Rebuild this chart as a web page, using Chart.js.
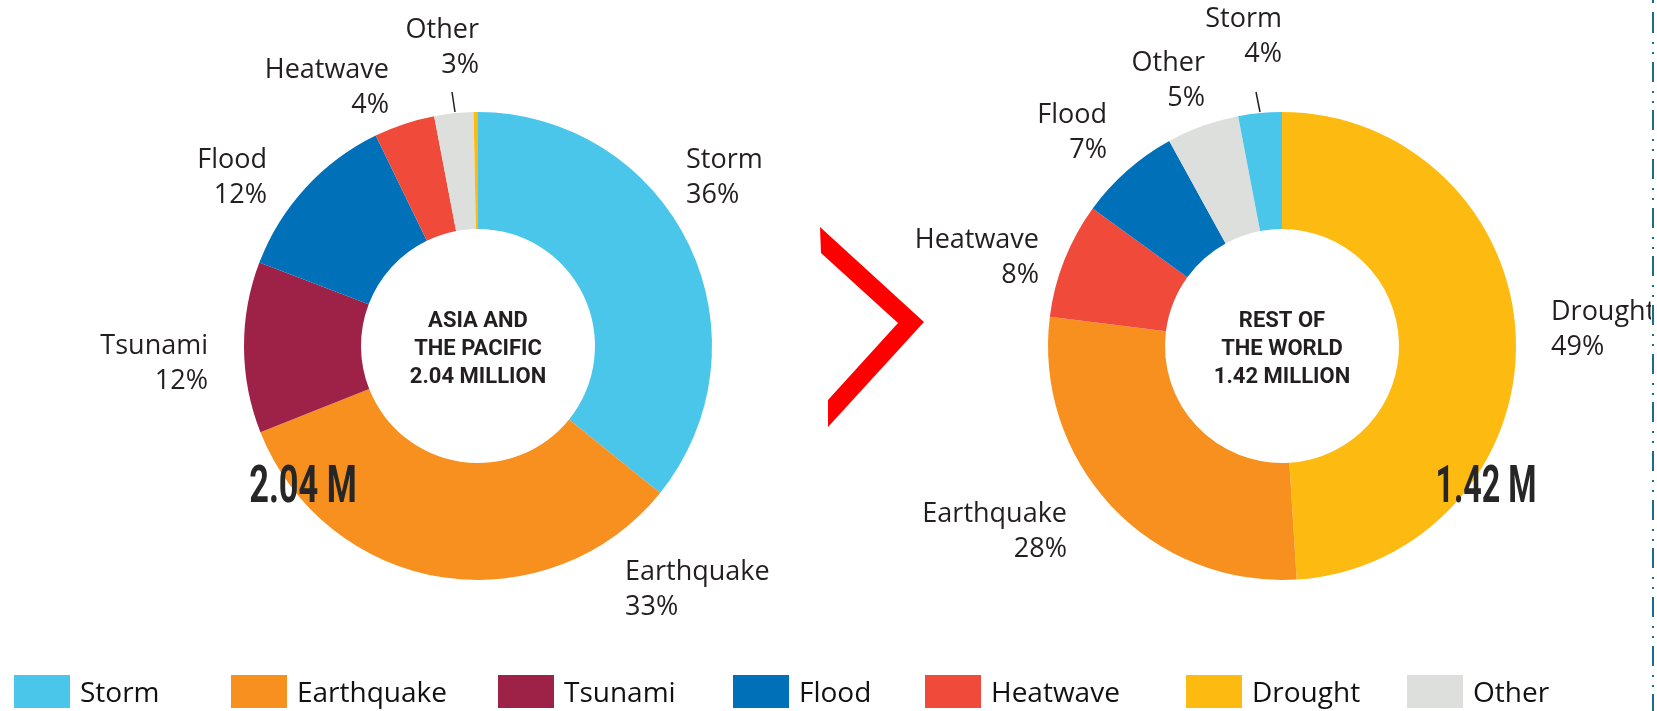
<!DOCTYPE html>
<html>
<head>
<meta charset="utf-8">
<title>Hazard shares</title>
<script src="https://cdn.jsdelivr.net/npm/chart.js@4.4.1/dist/chart.umd.min.js"></script>
<style>
    html, body { margin: 0; padding: 0; background: #fff; }
    body {
        width: 1657px;
        height: 711px;
        position: relative;
        overflow: hidden;
        font-family: 'Open Sans', sans-serif;
    }
    .chart-box { position: absolute; top: 0; height: 640px; }
    #asiaBox { left: 0; width: 830px; }
    #restBox { left: 900px; width: 751px; }
    #chevron { position: absolute; left: 0; top: 0; }
    .divider {
        position: absolute;
        left: 1652px;
        top: 0;
        width: 2px;
        height: 711px;
        background: repeating-linear-gradient(to bottom,
            #1e6a8d 0px, #1e6a8d 20px,
            transparent 20px, transparent 29px,
            #1e6a8d 29px, #1e6a8d 31px,
            transparent 31px, transparent 39px,
            #1e6a8d 39px, #1e6a8d 41px,
            transparent 41px, transparent 48.67px);
        background-position: 0 13px;
    }
    .legend-item { position: absolute; top: 675px; height: 34px; }
    .legend-item .swatch { position: absolute; left: 0; top: 0; width: 56px; height: 33px; }
    .legend-item .name {
        position: absolute;
        left: 66px;
        top: -3px;
        font-size: 28px;
        line-height: 38px;
        color: #111;
        white-space: nowrap;
    }
</style>
</head>
<body>
<div class="chart-box" id="asiaBox"><canvas id="asiaChart"></canvas></div>
<div class="chart-box" id="restBox"><canvas id="restChart"></canvas></div>
<svg id="chevron" width="1657" height="711">
    <polygon points="820,227 924,322 828,427 828,400 898,323 821,253" fill="#ff0000"></polygon>
</svg>
<div class="divider"></div>
<div id="legend"></div>

<script>
// Data
const asiaCategories = ['Storm', 'Earthquake', 'Tsunami', 'Flood', 'Heatwave', 'Other', 'Drought'];
const asiaShares = [35.8, 33.2, 11.8, 12.0, 4.2, 2.7, 0.3];
const asiaPercentLabels = ['36%', '33%', '12%', '12%', '4%', '3%', ''];
const asiaTitle = ['ASIA AND', 'THE PACIFIC', '2.04 MILLION'];
const asiaTotal = '2.04 M';

const restCategories = ['Drought', 'Earthquake', 'Heatwave', 'Flood', 'Other', 'Storm'];
const restShares = [49.0, 28.0, 8.0, 7.0, 5.0, 3.0];
const restPercentLabels = ['49%', '28%', '8%', '7%', '5%', '4%'];
const restTitle = ['REST OF', 'THE WORLD', '1.42 MILLION'];
const restTotal = '1.42 M';

const legendCategories = ['Storm', 'Earthquake', 'Tsunami', 'Flood', 'Heatwave', 'Drought', 'Other'];

const hazardColors = {
    Storm: '#49C6EA',
    Earthquake: '#F7901E',
    Tsunami: '#9E2148',
    Flood: '#0070B8',
    Heatwave: '#EF4A3A',
    Drought: '#FDBB12',
    Other: '#DDDFDC'
};

// Label placement, relative to the doughnut centre
const asiaLabelLayout = {
    Storm: { dx: 208, dy: -186, align: 'left' },
    Earthquake: { dx: 147, dy: 226, align: 'left' },
    Tsunami: { dx: -270, dy: 0, align: 'right' },
    Flood: { dx: -211, dy: -186, align: 'right' },
    Heatwave: { dx: -89, dy: -276, align: 'right' },
    Other: { dx: 1, dy: -316, align: 'right' }
};
const restLabelLayout = {
    Drought: { dx: 269, dy: -34, align: 'left' },
    Earthquake: { dx: -215, dy: 168, align: 'right' },
    Heatwave: { dx: -243, dy: -106, align: 'right' },
    Flood: { dx: -175, dy: -231, align: 'right' },
    Other: { dx: -77, dy: -283, align: 'right' },
    Storm: { dx: 0, dy: -327, align: 'right' }
};
const legendLeft = [14, 231, 498, 733, 925, 1186, 1407];

// Slice labels, centre caption and big total
const donutTextPlugin = {
    id: 'donutText',
    afterDraw(chart, args, opts) {
        const ctx = chart.ctx;
        const arc = chart.getDatasetMeta(0).data[0];
        const cx = arc.x;
        const cy = arc.y;
        ctx.save();

        ctx.fillStyle = '#231f20';
        ctx.textBaseline = 'middle';
        ctx.font = '27px "Open Sans"';
        chart.data.labels.forEach((name, i) => {
            const pos = opts.layout[name];
            const pct = opts.percents[i];
            if (!pos || !pct) return;
            ctx.textAlign = pos.align;
            ctx.fillText(name, cx + pos.dx, cy + pos.dy);
            ctx.fillText(pct, cx + pos.dx, cy + pos.dy + 35);
        });

        // short leader line for the thin slice at the top
        ctx.strokeStyle = '#231f20';
        ctx.lineWidth = 1.5;
        ctx.beginPath();
        ctx.moveTo(cx + opts.leader[0], cy - 254);
        ctx.lineTo(cx + opts.leader[1], cy - 234);
        ctx.stroke();

        ctx.textAlign = 'center';
        ctx.font = 'bold 22px Roboto';
        opts.title.forEach((line, i) => {
            ctx.fillText(line, cx, cy - 25 + i * 28);
        });

        ctx.fillStyle = '#262626';
        ctx.textBaseline = 'alphabetic';
        ctx.font = 'bold 52px Roboto';
        ctx.translate(cx + opts.totalDx, cy + 156);
        ctx.scale(opts.totalScale, 1);
        ctx.fillText(opts.total, 0, 0);
        ctx.restore();
    }
};

function makeDonut(canvasId, categories, shares, padding, textOpts) {
    const ctx = document.getElementById(canvasId).getContext('2d');
    return new Chart(ctx, {
        type: 'doughnut',
        data: {
            labels: categories,
            datasets: [{
                data: shares,
                backgroundColor: categories.map(c => hazardColors[c]),
                borderWidth: 0,
                hoverOffset: 0,
                offset: 0
            }]
        },
        options: {
            responsive: true,
            maintainAspectRatio: false,
            animation: false,
            cutout: '50%',
            layout: { padding: padding },
            events: [],
            plugins: {
                legend: { display: false },
                tooltip: { enabled: false },
                donutText: textOpts
            }
        },
        plugins: [donutTextPlugin]
    });
}

function buildLegend() {
    const legend = document.getElementById('legend');
    legendCategories.forEach((name, i) => {
        const item = document.createElement('div');
        item.className = 'legend-item';
        item.style.left = legendLeft[i] + 'px';
        const swatch = document.createElement('div');
        swatch.className = 'swatch';
        swatch.style.background = hazardColors[name];
        const label = document.createElement('div');
        label.className = 'name';
        label.textContent = name;
        item.appendChild(swatch);
        item.appendChild(label);
        legend.appendChild(item);
    });
}

document.addEventListener('DOMContentLoaded', () => {
    window.asiaChart = makeDonut('asiaChart', asiaCategories, asiaShares,
        { left: 244, right: 118, top: 112, bottom: 60 },
        { layout: asiaLabelLayout, percents: asiaPercentLabels, title: asiaTitle,
          total: asiaTotal, totalDx: -175, totalScale: 0.66, leader: [-26, -23] });
    window.restChart = makeDonut('restChart', restCategories, restShares,
        { left: 148, right: 135, top: 112, bottom: 60 },
        { layout: restLabelLayout, percents: restPercentLabels, title: restTitle,
          total: restTotal, totalDx: 204, totalScale: 0.62, leader: [-26, -22] });
    buildLegend();
});
</script>
</body>
</html>
